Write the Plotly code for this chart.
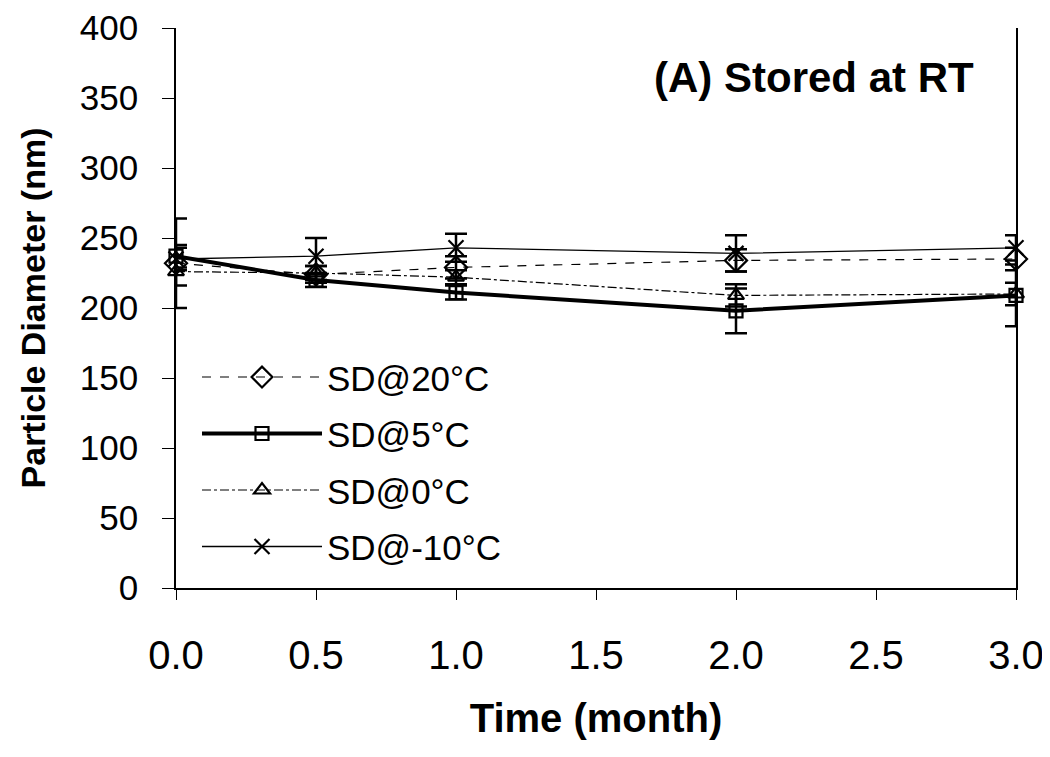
import plotly.graph_objects as go

time = [0.0, 0.5, 1.0, 2.0, 3.0]
names = ["SD@20°C", "SD@5°C", "SD@0°C", "SD@-10°C"]
sd20 = [232, 224, 229, 234, 235]
sd20_err = [32, 6, 8, 8, 8]
sd5 = [237, 220, 211, 198, 209]
sd5_err = [8, 5, 5, 16, 22]
sd0 = [226, 225, 222, 209, 210]
sd0_err = [10, 5, 5, 8, 8]
sdm10 = [235, 237, 243, 239, 243]
sdm10_err = [8, 13, 10, 13, 9]

x_ticks = [0.0, 0.5, 1.0, 1.5, 2.0, 2.5, 3.0]
x_ticktext = ["0.0", "0.5", "1.0", "1.5", "2.0", "2.5", "3.0"]

series = [sd20, sd5, sd0, sdm10]
errors = [sd20_err, sd5_err, sd0_err, sdm10_err]
symbols = ["diamond-open", "square-open", "triangle-up-open", "x-thin-open"]
msizes = [17, 13, 14, 15]
widths = [1.2, 4, 1.2, 1.3]
dashes = ["dash", "solid", "dashdot", "solid"]

fig = go.Figure()
for i, (nm, ys, er) in enumerate(zip(names, series, errors)):
    fig.add_trace(go.Scatter(
        x=time, y=ys, name=nm, mode="lines+markers",
        line=dict(color="black", width=widths[i], dash=dashes[i]),
        marker=dict(symbol=symbols[i], size=msizes[i], color="black",
                    line=dict(color="black", width=2.2)),
        error_y=dict(type="data", array=er, visible=True, color="black",
                     thickness=2.5, width=11),
        legendgroup=nm,
        cliponaxis=False,
    ))

fig.add_annotation(text="<b>(A) Stored at RT</b>", xref="paper", yref="paper",
                   x=0.952, y=0.911, xanchor="right", yanchor="middle", showarrow=False,
                   font=dict(family="Liberation Sans, Arial", size=42, color="black"))

fig.update_layout(
    width=1042, height=749,
    margin=dict(l=168, r=34, t=20, b=169),
    paper_bgcolor="white", plot_bgcolor="white",
    font=dict(family="Liberation Sans, Arial", color="black", size=34),
    showlegend=True,
    legend=dict(x=0.025, y=0.429, xanchor="left", yanchor="top",
                font=dict(size=35), bgcolor="rgba(0,0,0,0)",
                traceorder="grouped", tracegroupgap=8, itemwidth=120),
    xaxis=dict(range=[0, 3], tickvals=x_ticks, ticktext=x_ticktext, automargin=False,
               showgrid=False, zeroline=False, showline=True, linecolor="black",
               linewidth=1.5, ticks="outside", ticklen=10, tickcolor="black",
               ticklabelstandoff=21, tickfont=dict(size=40),
               title=dict(text="<b>Time (month)</b>", font=dict(size=40), standoff=28)),
    yaxis=dict(range=[0, 400], dtick=50, showgrid=False, zeroline=False, automargin=False,
               showline=True, linecolor="black", linewidth=1.5, mirror=True,
               ticks="outside", ticklen=12, tickcolor="black",
               ticklabelstandoff=17, tickfont=dict(size=35),
               title=dict(text="<b>Particle Diameter (nm)</b>", font=dict(size=34), standoff=24)),
)

fig.write_html("out.html")
